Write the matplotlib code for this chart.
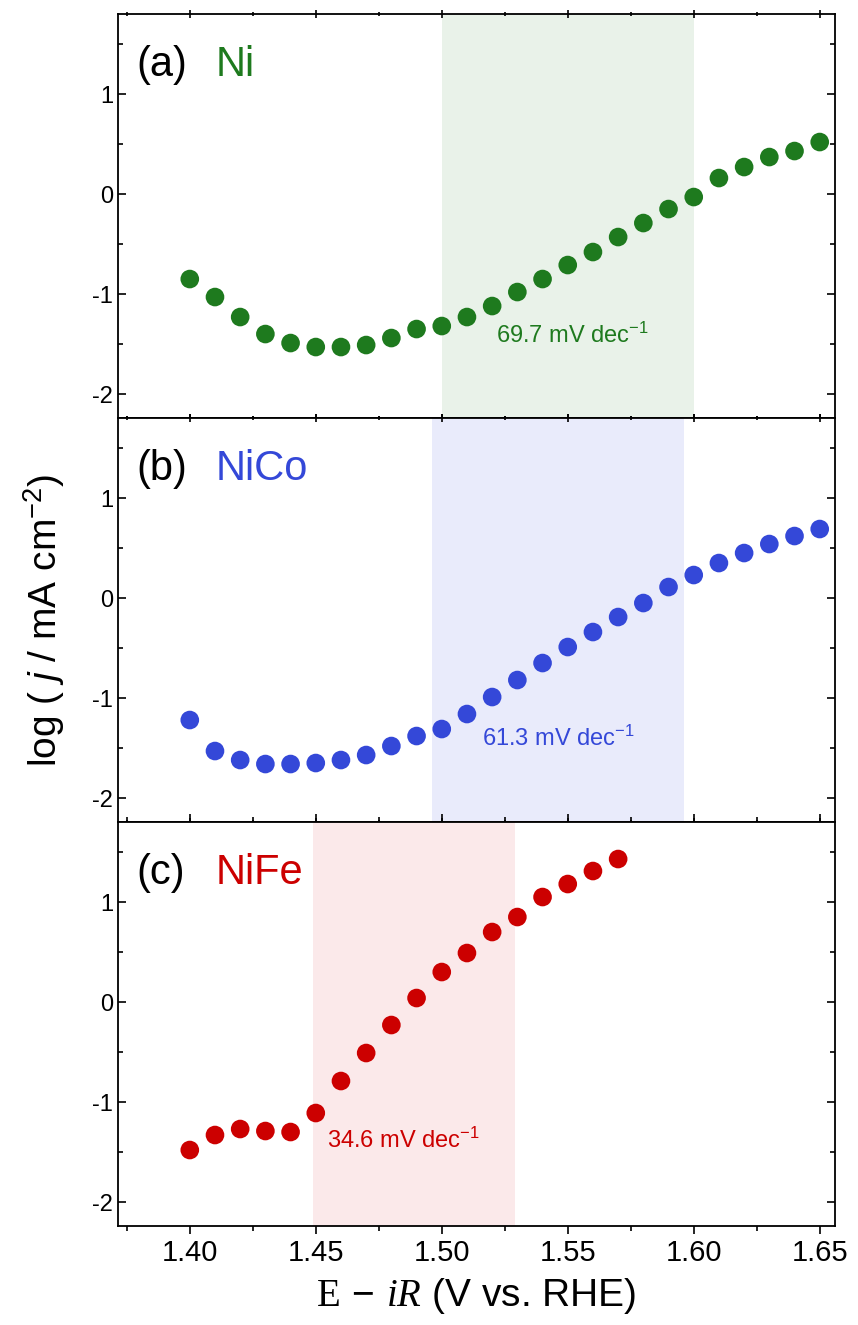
import numpy as np
import matplotlib
matplotlib.use("Agg")
import matplotlib.pyplot as plt
from matplotlib.ticker import MultipleLocator, FormatStrFormatter

plt.rcParams['font.family'] = ['Liberation Sans', 'DejaVu Sans']
plt.rcParams['axes.unicode_minus'] = False
# custom math fonts: sans for the y label, serif (via bf/cal) for the x label
plt.rcParams['mathtext.fontset'] = 'custom'
plt.rcParams['mathtext.rm'] = 'Liberation Sans'
plt.rcParams['mathtext.sf'] = 'Liberation Sans'
plt.rcParams['mathtext.it'] = 'Liberation Sans:italic'
plt.rcParams['mathtext.bf'] = 'Liberation Serif'
plt.rcParams['mathtext.cal'] = 'Liberation Serif:italic'

# data
x_ni = [1.40, 1.41, 1.42, 1.43, 1.44, 1.45, 1.46, 1.47, 1.48, 1.49, 1.50, 1.51, 1.52,
        1.53, 1.54, 1.55, 1.56, 1.57, 1.58, 1.59, 1.60, 1.61, 1.62, 1.63, 1.64, 1.65]
y_ni = [-0.85, -1.03, -1.23, -1.40, -1.49, -1.53, -1.53, -1.51, -1.44, -1.35, -1.32, -1.23, -1.12,
        -0.98, -0.85, -0.71, -0.58, -0.43, -0.29, -0.15, -0.03, 0.16, 0.27, 0.37, 0.43, 0.52]

x_nico = x_ni
y_nico = [-1.22, -1.53, -1.62, -1.66, -1.66, -1.65, -1.62, -1.57, -1.48, -1.38, -1.31, -1.16, -0.99,
          -0.82, -0.65, -0.49, -0.34, -0.19, -0.05, 0.11, 0.23, 0.35, 0.45, 0.54, 0.62, 0.69]

x_nife = [1.40, 1.41, 1.42, 1.43, 1.44, 1.45, 1.46, 1.47, 1.48, 1.49, 1.50, 1.51, 1.52,
          1.53, 1.54, 1.55, 1.56, 1.57]
y_nife = [-1.48, -1.33, -1.27, -1.29, -1.30, -1.11, -0.79, -0.51, -0.23, 0.04, 0.30, 0.49, 0.70,
          0.85, 1.05, 1.18, 1.31, 1.43]

labels = ['(a)', '(b)', '(c)']
names = ['Ni', 'NiCo', 'NiFe']
tafel = ['69.7', '61.3', '34.6']
spans = [(1.50, 1.60), (1.496, 1.596), (1.449, 1.529)]
colors = ['#1e7a1e', '#3448d8', '#cc0000']
shades = ['#e9f2e9', '#e9ebfb', '#fbe9ea']
text_pos = [(1.5215, -1.41), (1.516, -1.40), (1.4545, -1.38)]

fig, axes = plt.subplots(3, 1, figsize=(8.58, 13.25), dpi=100, sharex=True)
fig.subplots_adjust(left=0.1375, right=0.973, top=0.9894, bottom=0.0747, hspace=0)

series = [(x_ni, y_ni), (x_nico, y_nico), (x_nife, y_nife)]
for i, ax in enumerate(axes):
    xs, ys = series[i]
    ax.axvspan(spans[i][0], spans[i][1], color=shades[i], lw=0, zorder=0)
    ax.scatter(xs, ys, s=180, color=colors[i], edgecolors='none', zorder=3)
    ax.text(text_pos[i][0], text_pos[i][1], tafel[i] + ' mV dec$^{\\mathsf{-1}}$',
            color=colors[i], fontsize=17, va='center', ha='left')
    ax.text(0.026, 0.874, labels[i], transform=ax.transAxes, fontsize=30,
            va='center', ha='left')
    ax.text(0.136, 0.874, names[i], transform=ax.transAxes, fontsize=30,
            va='center', ha='left', color=colors[i])

    ax.set_xlim(1.3715, 1.656)
    ax.set_ylim(-2.24, 1.8)
    ax.yaxis.set_major_locator(MultipleLocator(1))
    ax.yaxis.set_minor_locator(MultipleLocator(0.5))
    ax.xaxis.set_major_locator(MultipleLocator(0.05))
    ax.xaxis.set_minor_locator(MultipleLocator(0.025))
    ax.xaxis.set_major_formatter(FormatStrFormatter('%.2f'))
    for sp in ax.spines.values():
        sp.set_linewidth(1.3)
    ax.tick_params(axis='y', which='both', direction='in', left=True, right=True,
                   labelsize=17, width=1.2)
    ax.tick_params(axis='y', which='major', length=6)
    ax.tick_params(axis='y', which='minor', length=3.5)
    ax.tick_params(axis='x', which='both', top=True, width=1.2, labelsize=21)
    ax.tick_params(axis='x', which='major', length=6)
    ax.tick_params(axis='x', which='minor', length=3.5)
    if i < 2:
        ax.tick_params(axis='x', which='both', direction='inout')
    else:
        ax.tick_params(axis='x', which='both', direction='out')

axes[1].set_ylabel('log ( $\\mathit{j}$ / mA cm$^{\\mathsf{-2}}$)', fontsize=28, labelpad=18)
axes[2].set_xlabel('$\\mathbf{E}\\,-\\,\\mathcal{iR}$ (V vs. RHE)', fontsize=28, labelpad=6)

fig.savefig('out.png', dpi=100)
